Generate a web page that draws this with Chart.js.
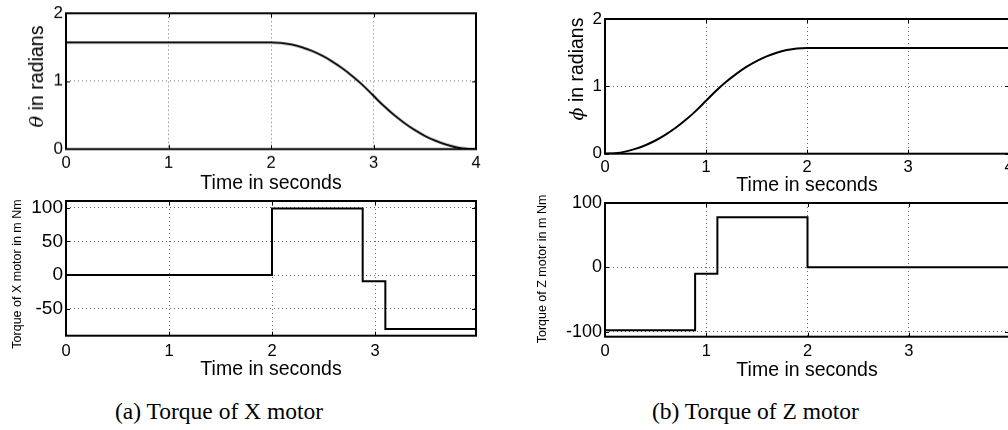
<!DOCTYPE html>
<html>
<head>
<meta charset="utf-8">
<script src="https://cdn.jsdelivr.net/npm/chart.js@4.4.1/dist/chart.umd.min.js"></script>
<style>
  html, body { margin: 0; padding: 0; background: #fff; width: 1008px; height: 430px; overflow: hidden; }
  canvas.panel { position: absolute; }
  .caption { position: absolute; font-family: "Liberation Serif", "Times New Roman", serif; font-size: 23.5px; line-height: 24px; color: #000; white-space: nowrap; }
</style>
</head>
<body>
<canvas id="thetaPanel" class="panel"></canvas>
<canvas id="torqueXPanel" class="panel"></canvas>
<canvas id="phiPanel" class="panel"></canvas>
<canvas id="torqueZPanel" class="panel"></canvas>
<div class="caption" style="left:115px; top:399px;">(a) Torque of X motor</div>
<div class="caption" style="left:652px; top:399px;">(b) Torque of Z motor</div>
<script>
// ---- data ----
const timeTicks = [0, 1, 2, 3, 4];
const angleTicks = [0, 1, 2];
const torqueXTicks = [-50, 0, 50, 100];
const torqueZTicks = [-100, 0, 100];

// X axis angle theta (rad): holds at pi/2, then swings down to 0 between 2 s and 4 s
const thetaTime = [0, 2.0, 2.1, 2.2, 2.3, 2.4, 2.5, 2.6, 2.7, 2.8, 2.9, 3.0,
                   3.1, 3.2, 3.3, 3.4, 3.5, 3.6, 3.7, 3.8, 3.9, 4.0];
const thetaRad  = [1.571, 1.571, 1.563, 1.539, 1.500, 1.445, 1.374, 1.288, 1.186, 1.068, 0.935, 0.785,
                   0.636, 0.503, 0.385, 0.283, 0.196, 0.126, 0.071, 0.031, 0.008, 0.000];

// Z axis angle phi (rad): swings up from 0 to pi/2 in the first 2 s, then holds
const phiTime = [0, 0.1, 0.2, 0.3, 0.4, 0.5, 0.6, 0.7, 0.8, 0.9, 1.0,
                 1.1, 1.2, 1.3, 1.4, 1.5, 1.6, 1.7, 1.8, 1.9, 2.0, 4.0];
const phiRad  = [0.000, 0.008, 0.031, 0.071, 0.126, 0.196, 0.283, 0.385, 0.503, 0.636, 0.785,
                 0.935, 1.068, 1.186, 1.288, 1.374, 1.445, 1.500, 1.539, 1.563, 1.571, 1.571];

// Motor torques (m Nm): each level starts at its switching time
const torqueXTime = [0, 2.0, 2.88, 3.1, 4.0];
const torqueXVal  = [0, 99, -9, -80, -80];
const torqueZTime = [0, 0.89, 1.11, 2.0, 4.0];
const torqueZVal  = [-98, -10, 78, 0, 0];

// ---- drawing helpers ----
const SANS = '"Liberation Sans", Arial, Helvetica, sans-serif';
const MATH = '"DejaVu Serif", "Liberation Serif", serif';

// MATLAB-style box with inward tick marks
const framePlugin = {
  id: 'frame',
  afterDatasetsDraw(chart) {
    const { ctx, chartArea: a, scales } = chart;
    const len = 4;
    ctx.save();
    ctx.strokeStyle = '#000';
    ctx.lineWidth = 1;
    ctx.beginPath();
    scales.x.ticks.forEach(t => {
      const px = Math.round(scales.x.getPixelForValue(t.value)) + 0.5;
      ctx.moveTo(px, a.bottom); ctx.lineTo(px, a.bottom - len);
      ctx.moveTo(px, a.top); ctx.lineTo(px, a.top + len);
    });
    scales.y.ticks.forEach(t => {
      const py = Math.round(scales.y.getPixelForValue(t.value)) + 0.5;
      ctx.moveTo(a.left, py); ctx.lineTo(a.left + len, py);
      ctx.moveTo(a.right, py); ctx.lineTo(a.right - len, py);
    });
    ctx.stroke();
    ctx.lineWidth = 2;
    ctx.strokeRect(a.left, a.top, a.right - a.left, a.bottom - a.top);
    ctx.restore();
  }
};

// Rotated y-axis caption built from runs of differently styled text
const yTitlePlugin = {
  id: 'yTitle',
  afterDraw(chart, args, opts) {
    const ctx = chart.ctx;
    ctx.save();
    ctx.fillStyle = '#000';
    ctx.textBaseline = 'alphabetic';
    ctx.textAlign = 'left';
    let total = 0;
    const widths = opts.parts.map(p => { ctx.font = p.font; const w = ctx.measureText(p.text).width; total += w; return w; });
    ctx.translate(opts.x, opts.y);
    ctx.rotate(-Math.PI / 2);
    let pos = -total / 2;
    opts.parts.forEach((p, i) => { ctx.font = p.font; ctx.fillText(p.text, pos, 0); pos += widths[i]; });
    ctx.restore();
  }
};

function buildPanel(p) {
  const canvas = document.getElementById(p.id);
  const padRight = 20;
  const yAxisW = 60;
  const cw = p.area.right + padRight - p.canvasLeft;
  const ch = p.area.bottom + p.xAxisH - p.canvasTop;
  canvas.width = cw; canvas.height = ch;
  canvas.style.left = p.canvasLeft + 'px';
  canvas.style.top = p.canvasTop + 'px';
  canvas.style.width = cw + 'px';
  canvas.style.height = ch + 'px';

  const gridOpts = { color: 'rgba(0,0,0,0.6)', lineWidth: 1, drawTicks: false };
  const borderOpts = { display: false, dash: [1, 3] };

  return new Chart(canvas, {
    type: 'line',
    data: {
      datasets: [{
        data: p.times.map((t, i) => ({ x: t, y: p.values[i] })),
        borderColor: '#000',
        borderWidth: 2,
        pointRadius: 0,
        fill: false,
        stepped: p.stepped ? 'before' : false,
        cubicInterpolationMode: p.stepped ? 'default' : 'monotone'
      }]
    },
    options: {
      responsive: false,
      animation: false,
      events: [],
      layout: { padding: { left: p.area.left - p.canvasLeft - yAxisW, top: p.area.top - p.canvasTop, right: padRight, bottom: 0 } },
      plugins: {
        legend: { display: false },
        tooltip: { enabled: false },
        yTitle: { x: p.yTitle.x - p.canvasLeft, y: p.yTitle.y - p.canvasTop, parts: p.yTitle.parts }
      },
      scales: {
        x: {
          type: 'linear', min: 0, max: p.xMax,
          afterBuildTicks: s => { s.ticks = timeTicks.filter(v => v <= p.xMax).map(v => ({ value: v })); },
          afterFit: s => { s.height = p.xAxisH; },
          ticks: { color: '#000', font: { family: SANS, size: 16.5 }, padding: p.xTickPad, maxRotation: 0, autoSkip: false },
          grid: gridOpts, border: borderOpts,
          title: { display: true, text: 'Time in seconds', color: '#000', font: { family: SANS, size: 19.5, lineHeight: 1.2 }, padding: 0 }
        },
        y: {
          type: 'linear', min: p.yMin, max: p.yMax,
          afterBuildTicks: s => { s.ticks = p.yTicks.map(v => ({ value: v })); },
          afterFit: s => { s.width = yAxisW; },
          ticks: { color: '#000', font: { family: SANS, size: p.yTickSize }, padding: 3, autoSkip: false },
          grid: gridOpts, border: borderOpts
        }
      }
    },
    plugins: [framePlugin, yTitlePlugin]
  });
}

buildPanel({
  id: 'thetaPanel', canvasLeft: 0, canvasTop: 0,
  area: { left: 66, top: 13, right: 476, bottom: 149 }, xAxisH: 45.7, xTickPad: 4,
  times: thetaTime, values: thetaRad, xMax: 4, yMin: 0, yMax: 2, yTicks: angleTicks, yTickSize: 17,
  yTitle: { x: 43, y: 76, parts: [{ text: '\u03B8', font: 'italic 19px ' + MATH }, { text: ' in radians', font: '19.5px ' + SANS }] }
});
buildPanel({
  id: 'torqueXPanel', canvasLeft: 0, canvasTop: 180,
  area: { left: 66, top: 201, right: 476, bottom: 336 }, xAxisH: 45.3, xTickPad: 6,
  times: torqueXTime, values: torqueXVal, stepped: true, xMax: 3.98, yMin: -90, yMax: 110, yTicks: torqueXTicks, yTickSize: 19,
  yTitle: { x: 21, y: 274, parts: [{ text: 'Torque of X motor in m Nm', font: '12.5px ' + SANS }] }
});
buildPanel({
  id: 'phiPanel', canvasLeft: 505, canvasTop: 0,
  area: { left: 605, top: 19, right: 1009, bottom: 154 }, xAxisH: 43.3, xTickPad: 4,
  times: phiTime, values: phiRad, xMax: 4, yMin: 0, yMax: 2, yTicks: angleTicks, yTickSize: 17,
  yTitle: { x: 583, y: 69, parts: [{ text: '\u03D5', font: 'italic 19px ' + MATH }, { text: ' in radians', font: '19.5px ' + SANS }] }
});
buildPanel({
  id: 'torqueZPanel', canvasLeft: 505, canvasTop: 180,
  area: { left: 605, top: 203, right: 1009, bottom: 337 }, xAxisH: 45.3, xTickPad: 5,
  times: torqueZTime, values: torqueZVal, stepped: true, xMax: 3.99, yMin: -108, yMax: 100, yTicks: torqueZTicks, yTickSize: 18,
  yTitle: { x: 546, y: 269, parts: [{ text: 'Torque of Z motor in m Nm', font: '12.5px ' + SANS }] }
});
</script>
</body>
</html>
